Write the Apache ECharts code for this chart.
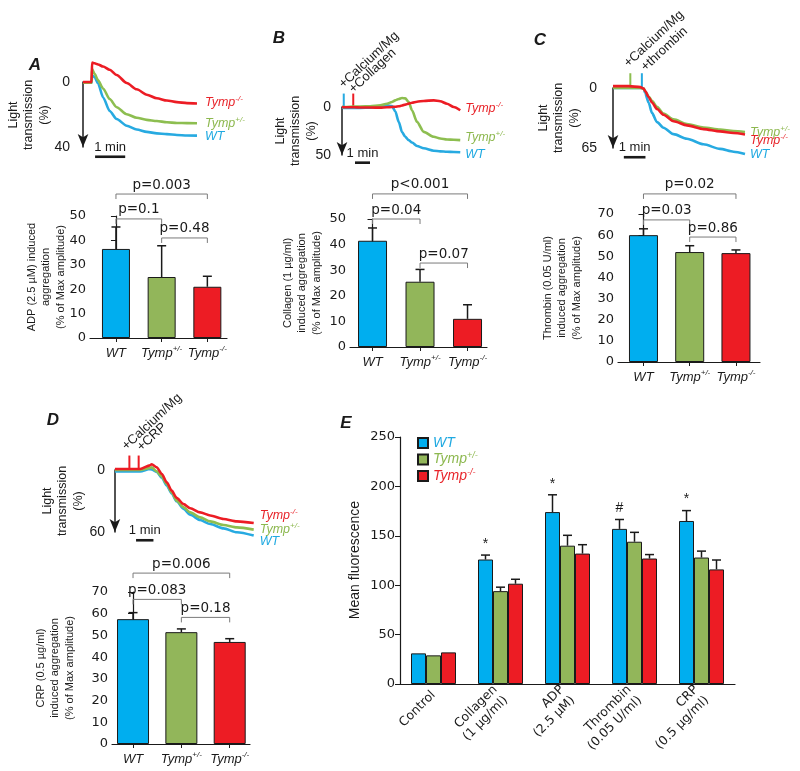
<!DOCTYPE html>
<html><head><meta charset="utf-8">
<script src="https://cdn.jsdelivr.net/npm/echarts@6/dist/echarts.min.js"></script>
<style>html,body{margin:0;padding:0;background:#fff}#c{width:800px;height:771px}</style>
</head><body><div id="c"></div>
<script>
// ================= DATA =================
const genotypes = ['WT', 'Tymp+/-', 'Tymp-/-'];

// Aggregation traces (time in s, light transmission change in %, positive = downwards)
const tA     = [0, 17, 18, 23, 30, 40, 53, 67, 87, 107, 127, 147, 167, 187, 207, 227];
const wtA    = [0.5, 0.5, -4, -3, 1, 9.5, 17.8, 22.8, 26.9, 29.2, 30.7, 31.6, 32.1, 32.6, 32.9, 33];
const hetA   = [0.5, 0.5, -8, -5, -1, 4, 10.5, 15.5, 19.8, 22, 23.3, 24, 24.8, 25.2, 25.3, 25.4];
const koA    = [0, 0, -12, -11.5, -10.8, -9.5, -7.5, -4.3, 0.6, 4.5, 7.8, 10, 11.4, 12.4, 13, 13.2];

const tB     = [0, 12, 49, 73, 113, 153, 180, 200, 213, 227, 240, 253, 267, 280, 300, 327, 367, 393, 420, 447, 473];
const wtB    = [0.7, 1, 1, 1, 0.7, -0.7, -1.7, -1, 4.5, 15.5, 26, 31, 34.5, 37, 40.7, 43, 45.5, 46.2, 46.6, 46.9, 47.2];
const hetB   = [0, 0, -0.5, -0.5, -0.7, -1.7, -3.4, -5.2, -6.9, -8.3, -9.3, -9, -5.2, 3.4, 15.5, 25.9, 31, 32.8, 33.8, 34.1, 34.5];
const koB    = [0, 0.3, 0.3, 0.5, 0.5, 0.7, 0.3, 0, -0.3, -0.8, -1.5, -2.5, -3.5, -4.5, -5.5, -6.3, -6.9, -6, -3.4, 0, 3.4];

const tC     = [0, 43, 76, 85, 89, 99, 108, 122, 140, 168, 205, 251, 297, 334, 366];
const wtC    = [0, 0, 0, 0.5, 5.4, 16, 27, 37, 43, 50, 55, 61, 66, 69, 71.5];
const hetC   = [0, 0, 0, 0.5, 3.2, 9.2, 14, 20.5, 27.6, 34, 39, 42.8, 45, 46.6, 47.6];
const koC    = [-2, -2, -1, 0.5, 3.2, 9.7, 15.7, 22.7, 29, 36, 40.5, 44.5, 47, 48.7, 50.3];

const tD     = [0, 87, 121, 127, 144, 162, 179, 196, 213, 237, 260, 294, 329, 375, 421, 479];
const wtD    = [1.3, 1.3, -1, -0.5, 1.8, 7.5, 15, 22.6, 30.3, 37.7, 43.2, 48.4, 52.3, 56.5, 60.3, 63.5];
const hetD   = [0, 0, -2, -2.6, 1.3, 6.5, 13.5, 21.6, 29.7, 36, 41, 45.8, 49.7, 53.2, 55.5, 57.7];
const koD    = [-1, -1, -4.5, -5.5, -2.6, 3.9, 12, 20, 27, 33, 37, 41, 44, 47.4, 49.7, 51.3];

// agonist-addition spikes: time, height, genotype index
const spikeB_t = [7, 45];  const spikeB_h = [-14, -14]; const spikeB_g = [0, 2];
const spikeC_t = [48, 80]; const spikeC_h = [-16, -16]; const spikeC_g = [1, 0];
const spikeD_t = [50, 82]; const spikeD_h = [-14, -14]; const spikeD_g = [2, 2];

// "1 min" scale bars: start time (s), length (s), level
const scaleA = [24, 60, 46];
const scaleB = [52, 60, 58];
const scaleC = [30, 60, 75];
const scaleD = [73, 60, 68];

// Aggregation bar charts: mean and upper SEM
const aggA = [36.5, 25, 21];   const errA = [9, 12.8, 4.3];
const aggB = [41.5, 25.5, 11]; const errB = [5, 4.8, 5.5];
const aggC = [60, 52, 51.5];   const errC = [3, 3, 1.5];
const aggD = [57.5, 51.5, 47]; const errD = [3, 1.5, 1.5];

// p-value brackets: pairs, level (axis units), text
const pairs = [[0, 2], [0, 1], [1, 2]];
const pLvlA = [59, 48.8, 41];    const pTxtA = ['p=0.003', 'p=0.1', 'p=0.48'];
const pLvlB = [59.8, 50, 32.8];  const pTxtB = ['p<0.001', 'p=0.04', 'p=0.07'];
const pLvlC = [79.5, 67.2, 59.1]; const pTxtC = ['p=0.02', 'p=0.03', 'p=0.86'];
const pLvlD = [78.7, 66.6, 58.3]; const pTxtD = ['p=0.006', 'p=0.083', 'p=0.18'];

// Panel E: mean fluorescence
const catE   = ['Control', 'Collagen\n(1 µg/ml)', 'ADP\n(2.5 µM)', 'Thrombin\n(0.05 U/ml)', 'CRP\n(0.5 µg/ml)'];
const wtE    = [31, 126, 174, 157, 165];
const wtErrE = [0, 4.5, 17.5, 9.5, 10.5];
const hetE   = [29, 94, 140, 144, 128];
const hetErrE= [0, 4, 10.5, 9.5, 6.5];
const koE    = [32, 101.5, 132, 127, 116];
const koErrE = [0, 4.5, 9, 4, 9.5];
const sigE   = ['', '*', '*', '#', '*'];

// ================= STYLE =================
const FONT = '"Liberation Sans", Arial, sans-serif';
const WIDE = '"DejaVu Sans", "Liberation Sans", sans-serif';
const INK = '#1a1a1a';
const colBar  = ['#00AEEF', '#92B65A', '#ED1C24'];
const colLine = ['#27AAE1', '#8DBE50', '#EC1C24'];
const colText = ['#1FA9E1', '#8DB84F', '#E8242A'];
const supOf = ['', '+/-', '-/-'];

function genoRich(size) {
  const r = {};
  [0, 1, 2].forEach(g => {
    r['t' + g] = {fontFamily: FONT, fontStyle: 'italic', fontSize: size, color: colText[g], lineHeight: size + 3};
    r['s' + g] = {fontFamily: FONT, fontStyle: 'italic', fontSize: Math.round(size * 0.62), color: colText[g], verticalAlign: 'top', lineHeight: Math.round(size * 0.62) + 1};
  });
  r.tk = {fontFamily: FONT, fontStyle: 'italic', fontSize: size, color: INK, lineHeight: size + 3};
  r.sk = {fontFamily: FONT, fontStyle: 'italic', fontSize: Math.round(size * 0.62), color: INK, verticalAlign: 'top', lineHeight: Math.round(size * 0.62) + 1};
  return r;
}
function genoText(g, colored) {
  const a = colored ? 't' + g : 'tk', b = colored ? 's' + g : 'sk';
  return g === 0 ? '{' + a + '|WT}' : '{' + a + '|Tymp}{' + b + '|' + supOf[g] + '}';
}

// ================= LAYOUT =================
const grids = [
  {left: 77,  top: 82,  width: 120, height: 65},   // 0 trace A
  {left: 338, top: 107, width: 123, height: 48},   // 1 trace B
  {left: 604, top: 88,  width: 141, height: 60},   // 2 trace C
  {left: 112, top: 470, width: 142, height: 62},   // 3 trace D
  {left: 90,  top: 216, width: 137, height: 122},  // 4 bar A
  {left: 350, top: 219, width: 137, height: 128},  // 5 bar B
  {left: 618, top: 214, width: 142, height: 148},  // 6 bar C
  {left: 112, top: 592, width: 138, height: 152},  // 7 bar D
  {left: 400, top: 437, width: 335, height: 247}   // 8 E
].map(g => Object.assign({containLabel: false, outerBoundsMode: 'none'}, g));

const xAxes = [], yAxes = [], series = [];

// ---- trace panels ----
const traceDefs = [
  {t: tA, v: [wtA, hetA, koA], max: 40, xr: [-12, 227], lab: [1, 0, -1], dist: 8, scale: scaleA, sp: null},
  {t: tB, v: [wtB, hetB, koB], max: 50, xr: [-16, 476], lab: [2, -3, -2], dist: 5, scale: scaleB, sp: [spikeB_t, spikeB_h, spikeB_g]},
  {t: tC, v: [wtC, hetC, koC], max: 65, xr: [-25, 366], lab: [1, 1, 6], dist: 5, scale: scaleC, sp: [spikeC_t, spikeC_h, spikeC_g]},
  {t: tD, v: [wtD, hetD, koD], max: 60, xr: [-10, 480], lab: [6, 0, -7], dist: 6, scale: scaleD, sp: [spikeD_t, spikeD_h, spikeD_g]}
];
traceDefs.forEach((d, i) => {
  const ax = xAxes.length;
  xAxes.push({gridIndex: i, type: 'value', min: d.xr[0], max: d.xr[1], show: false});
  yAxes.push({
    gridIndex: i, type: 'value', inverse: true, min: 0, max: d.max, interval: d.max,
    axisLine: {show: true, lineStyle: {color: INK, width: 1.5}, symbol: ['arrow', 'none'], symbolSize: [8, 13]},
    axisTick: {show: false}, splitLine: {show: false},
    axisLabel: {fontFamily: FONT, fontSize: 14, color: INK, margin: 7}
  });
  [0, 1, 2].forEach(g => {
    series.push({
      type: 'line', xAxisIndex: ax, yAxisIndex: ax, clip: false, showSymbol: false, silent: true,
      smooth: 0.25, smoothMonotone: 'x',
      lineStyle: {color: colLine[g], width: 2.6}, itemStyle: {color: colLine[g]},
      data: d.t.map((t, k) => [t, d.v[g][k]]),
      endLabel: {show: true, distance: d.dist, offset: [0, d.lab[g]], formatter: () => genoText(g, true), rich: genoRich(12.5)},
      z: 3 + g
    });
  });
  if (d.sp) {
    series.push({
      type: 'custom', xAxisIndex: ax, yAxisIndex: ax, silent: true, z: 2,
      data: d.sp[0].map((t, k) => [t, d.sp[1][k], d.sp[2][k]]),
      renderItem: (p, api) => {
        const a = api.coord([api.value(0), 0]), b = api.coord([api.value(0), api.value(1)]);
        return {type: 'line', shape: {x1: a[0], y1: a[1], x2: b[0], y2: b[1]}, style: {stroke: colLine[api.value(2)], lineWidth: 2}};
      }
    });
  }
  series.push({
    type: 'custom', xAxisIndex: ax, yAxisIndex: ax, silent: true,
    data: [d.scale],
    renderItem: (p, api) => {
      const a = api.coord([api.value(0), api.value(2)]), b = api.coord([api.value(0) + api.value(1), api.value(2)]);
      return {type: 'group', children: [
        {type: 'line', shape: {x1: a[0], y1: a[1], x2: b[0], y2: b[1]}, style: {stroke: INK, lineWidth: 2.6}},
        {type: 'text', x: (a[0] + b[0]) / 2, y: a[1] - 3, style: {text: '1 min', fill: INK, font: '13px ' + FONT, align: 'center', verticalAlign: 'bottom'}}
      ]};
    }
  });
});

// ---- bar panels A-D ----
const barDefs = [
  {agg: aggA, err: errA, lvl: pLvlA, txt: pTxtA, max: 50, xr: [-0.568, 2.43], bw: 28},
  {agg: aggB, err: errB, lvl: pLvlB, txt: pTxtB, max: 50, xr: [-0.474, 2.41], bw: 29},
  {agg: aggC, err: errC, lvl: pLvlC, txt: pTxtC, max: 70, xr: [-0.551, 2.52], bw: 29},
  {agg: aggD, err: errD, lvl: pLvlD, txt: pTxtD, max: 70, xr: [-0.435, 2.42], bw: 32}
];
barDefs.forEach((d, i) => {
  const gi = 4 + i, ax = xAxes.length;
  xAxes.push({
    gridIndex: gi, type: 'value', min: d.xr[0], max: d.xr[1],
    axisLine: {show: true, lineStyle: {color: INK, width: 1.2}},
    axisTick: {show: true, customValues: [0, 1, 2], length: 4, lineStyle: {color: INK}},
    axisLabel: {customValues: [0, 1, 2], margin: 7, formatter: v => genoText(Math.round(v), false), rich: genoRich(13)},
    splitLine: {show: false}
  });
  yAxes.push({
    gridIndex: gi, type: 'value', min: 0, max: d.max, interval: 10,
    axisLine: {show: true, lineStyle: {color: INK, width: 1.2}},
    axisTick: {show: true, length: 5, lineStyle: {color: INK}},
    axisLabel: {fontFamily: WIDE, fontSize: 13, color: INK, margin: 4},
    splitLine: {show: false}
  });
  series.push({
    type: 'bar', xAxisIndex: ax, yAxisIndex: ax, barWidth: d.bw, silent: true,
    itemStyle: {borderColor: INK, borderWidth: 1},
    data: d.agg.map((v, k) => ({value: [k, v], itemStyle: {color: colBar[k]}}))
  });
  series.push({
    type: 'custom', xAxisIndex: ax, yAxisIndex: ax, silent: true, z: 3,
    data: d.agg.map((v, k) => [k, v, d.err[k]]),
    renderItem: (p, api) => {
      const a = api.coord([api.value(0), api.value(1)]), b = api.coord([api.value(0), api.value(1) + api.value(2)]);
      return {type: 'group', children: [
        {type: 'line', shape: {x1: a[0], y1: a[1], x2: b[0], y2: b[1]}, style: {stroke: INK, lineWidth: 1.5}},
        {type: 'line', shape: {x1: b[0] - 4.5, y1: b[1], x2: b[0] + 4.5, y2: b[1]}, style: {stroke: INK, lineWidth: 1.5}}
      ]};
    }
  });
  series.push({
    type: 'custom', xAxisIndex: ax, yAxisIndex: ax, silent: true, z: 3,
    data: pairs.map((pr, k) => [pr[0], pr[1], d.lvl[k]]),
    renderItem: (p, api) => {
      const a = api.coord([api.value(0), api.value(2)]), b = api.coord([api.value(1), api.value(2)]);
      return {type: 'group', children: [
        {type: 'polyline', shape: {points: [[a[0], a[1] + 5], [a[0], a[1]], [b[0], b[1]], [b[0], b[1] + 5]]}, style: {stroke: '#7a7a7a', lineWidth: 1, fill: null}},
        {type: 'text', x: (a[0] + b[0]) / 2, y: a[1] - 2, style: {text: d.txt[p.dataIndex], fill: INK, font: '13.5px ' + WIDE, align: 'center', verticalAlign: 'bottom'}}
      ]};
    }
  });
});

// ---- panel E ----
const eAx = xAxes.length;
xAxes.push({
  gridIndex: 8, type: 'category', data: catE,
  axisLine: {show: true, lineStyle: {color: INK, width: 1.2}},
  axisTick: {show: false},
  axisLabel: {rotate: 45, interval: 0, margin: 9, fontFamily: WIDE, fontSize: 12.5, lineHeight: 15, color: INK}
});
yAxes.push({
  gridIndex: 8, type: 'value', min: 0, max: 250, interval: 50,
  axisLine: {show: true, lineStyle: {color: INK, width: 1.2}},
  axisTick: {show: true, length: 5, lineStyle: {color: INK}},
  axisLabel: {fontFamily: WIDE, fontSize: 13, color: INK, margin: 5},
  splitLine: {show: false}
});
const eVals = [wtE, hetE, koE], eErrs = [wtErrE, hetErrE, koErrE];
[0, 1, 2].forEach(g => {
  series.push({
    name: genotypes[g], type: 'bar', xAxisIndex: eAx, yAxisIndex: eAx, barWidth: 15, barGap: '0%', silent: true,
    itemStyle: {color: colBar[g], borderColor: INK, borderWidth: 1},
    data: eVals[g]
  });
});
[0, 1, 2].forEach(g => {
  series.push({
    type: 'custom', xAxisIndex: eAx, yAxisIndex: eAx, silent: true, z: 3,
    data: eVals[g].map((v, k) => [k, v, eErrs[g][k]]),
    renderItem: (p, api) => {
      const off = (g - 1) * 15;
      const a = api.coord([api.value(0), api.value(1)]), b = api.coord([api.value(0), api.value(1) + api.value(2)]);
      const x = a[0] + off, kids = [];
      if (api.value(2) > 0) {
        kids.push({type: 'line', shape: {x1: x, y1: a[1], x2: x, y2: b[1]}, style: {stroke: INK, lineWidth: 1.5}});
        kids.push({type: 'line', shape: {x1: x - 4.5, y1: b[1], x2: x + 4.5, y2: b[1]}, style: {stroke: INK, lineWidth: 1.5}});
      }
      if (g === 0 && sigE[p.dataIndex]) {
        kids.push({type: 'text', x: x, y: b[1] - 4, style: {text: sigE[p.dataIndex], fill: INK, font: '14px ' + FONT, align: 'center', verticalAlign: 'bottom'}});
      }
      return {type: 'group', children: kids};
    }
  });
});

// ---- annotations ----
const ROT = 0.75;
function rtext(x, y, s) {
  return {type: 'text', x: x, y: y, rotation: ROT, style: {text: s, fill: INK, font: '13px ' + FONT, align: 'left', verticalAlign: 'middle'}};
}
function letter(x, y, s) {
  return {type: 'text', x: x, y: y, style: {text: s, fill: INK, font: 'italic bold 17px ' + FONT, align: 'center', verticalAlign: 'middle'}};
}
function vname(x, y, s, size, lh) {
  return {type: 'text', x: x, y: y, rotation: Math.PI / 2, style: {text: s, fill: INK, font: size + 'px ' + FONT, lineHeight: lh, align: 'center', verticalAlign: 'middle'}};
}
const LT = 'Light\ntransmission\n(%)';

const option = {
  animation: false,
  backgroundColor: '#fff',
  grid: grids,
  xAxis: xAxes,
  yAxis: yAxes,
  legend: {
    data: genotypes, orient: 'vertical', left: 412, top: 431, icon: 'rect',
    itemWidth: 10, itemHeight: 10, itemGap: 1, selectedMode: false,
    formatter: n => genoText(genotypes.indexOf(n), true),
    textStyle: {rich: genoRich(14)}
  },
  series: series,
  graphic: [
    letter(35, 65, 'A'), letter(279, 38, 'B'), letter(540, 40, 'C'), letter(53, 420, 'D'), letter(346, 423, 'E'),
    rtext(341, 86, '+Calcium/Mg'), rtext(351, 91, '+Collagen'),
    rtext(626, 65, '+Calcium/Mg'), rtext(643, 69, '+thrombin'),
    rtext(124, 448, '+Calcium/Mg'), rtext(139, 449, '+CRP'),
    vname(29, 115, LT, 12.5, 15.5), vname(296, 131, LT, 12.5, 15.5), vname(559, 118, LT, 12.5, 15.5), vname(63, 501, LT, 12.5, 15.5),
    vname(46, 277, 'ADP (2.5 µM) induced\naggregation\n(% of Max amplitude)', 11, 14.5),
    vname(302, 283, 'Collagen (1 µg/ml)\ninduced aggregation\n(% of Max amplitude)', 11, 14.5),
    vname(562, 288, 'Thrombin (0.05 U/ml)\ninduced aggregation\n(% of Max amplitude)', 11, 14.5),
    vname(55, 668, 'CRP (0.5 µg/ml)\ninduced aggregation\n(% of Max amplitude)', 11, 14.5),
    vname(355, 560, 'Mean fluorescence', 14, 16)
  ]
};
const chart = echarts.init(document.getElementById('c'), null, {renderer: 'canvas'});
chart.setOption(option);
</script>
</body></html>
